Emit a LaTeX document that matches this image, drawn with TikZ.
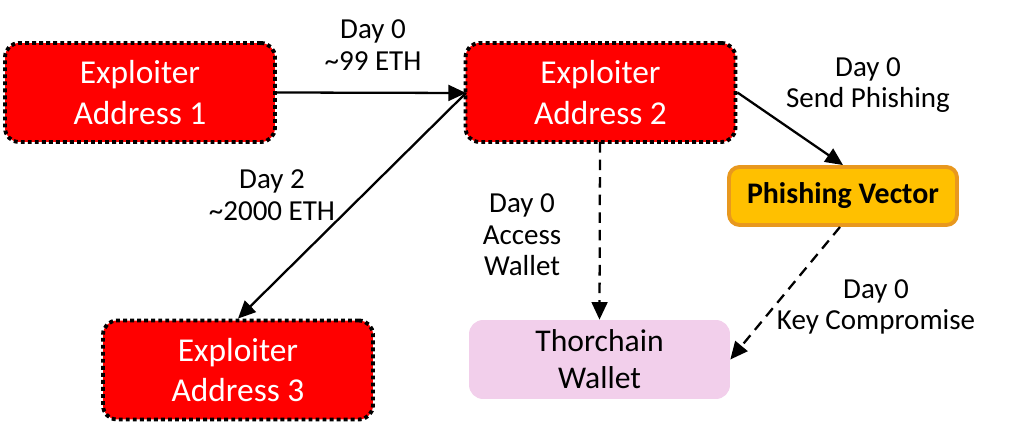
\documentclass[tikz,border=0pt]{standalone}
\usepackage{fontspec}
\setmainfont{Carlito}
\usetikzlibrary{arrows.meta}
\definecolor{exred}{HTML}{FF0000}
\definecolor{phfill}{HTML}{FFC000}
\definecolor{phdraw}{HTML}{E8981E}
\definecolor{thpink}{HTML}{F2CFEB}
\tikzset{
	addr/.style={draw=black, line width=2.2pt, dash pattern=on 2.2pt off 1.8pt, fill=exred, rounded corners=8pt,
		text=white, font=\fontsize{19}{23}\selectfont, align=center, minimum width=5.4cm, minimum height=1.98cm},
	lbl/.style={font=\fontsize{16.5}{18}\selectfont, align=center},
	arr/.style={-{Triangle[length=10pt,width=9pt]}, line width=1.3pt},
	darr/.style={arr, dash pattern=on 6pt off 4pt}
}
\begin{document}
\begin{tikzpicture}[x=0.02cm,y=-0.02cm]
	\useasboundingbox (0,0) rectangle (1017,431);
	%boxes
	\node[addr] (addr1) at (140,92.5) {Exploiter\\Address 1};
	\node[addr] (addr2) at (600.5,92.5) {Exploiter\\Address 2};
	\node[addr] (addr3) at (238,370) {Exploiter\\Address 3};
	\node[draw=phdraw, line width=2.2pt, fill=phfill, rounded corners=6pt, minimum width=4.56cm, minimum height=1.16cm,
		font=\fontsize{17}{20}\selectfont\bfseries] (vector) at (843,196) {Phishing Vector};
	\node[fill=thpink, rounded corners=8pt, minimum width=5.22cm, minimum height=1.58cm,
		font=\fontsize{18}{21}\selectfont, align=center] (wallet) at (599.5,359.5) {Thorchain\\Wallet};
	%anchors
	\coordinate (a2w) at (466,93);
	\coordinate (a2s) at (600,142);
	\coordinate (vs) at (840,227);
	%arrows
	\draw[arr] (addr1.east) -- (a2w);
	\draw[arr] (a2w) -- (addr3.north);
	\draw[arr] (addr2.east) -- (vector.north);
	\draw[darr] (a2s) -- (wallet.north);
	\draw[darr] (vs) -- (wallet.east);
	%labels
	\node[lbl] (l1) at (373,45) {Day 0\\\textasciitilde99 ETH};
	\node[lbl] (l2) at (272,195) {Day 2\\\textasciitilde2000 ETH};
	\node[lbl] (l3) at (522,235) {Day 0\\Access\\Wallet};
	\node[lbl] (l4) at (868,85) {Day 0\\Send Phishing};
	\node[lbl] (l5) at (876,307) {Day 0\\Key Compromise};
\end{tikzpicture}
\end{document}
